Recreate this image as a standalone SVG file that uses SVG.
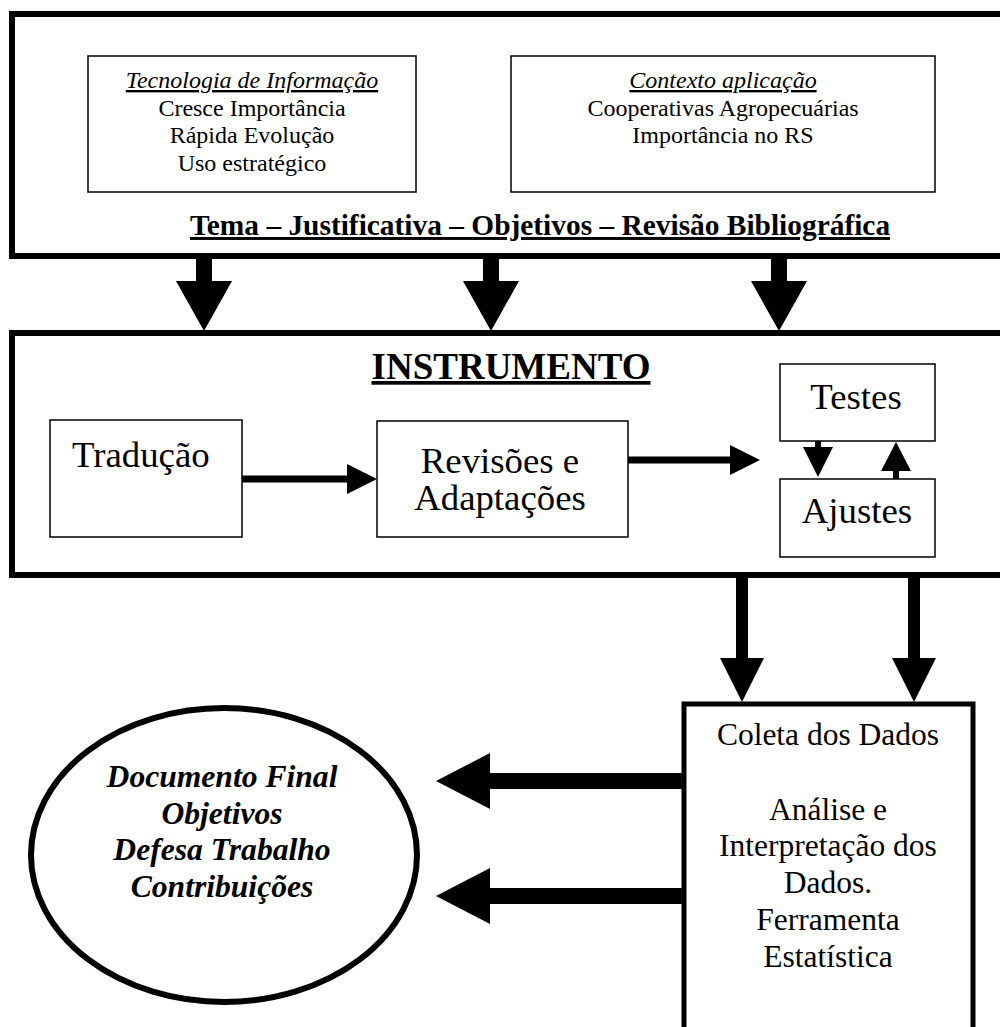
<svg xmlns="http://www.w3.org/2000/svg" width="1000" height="1027" viewBox="0 0 1000 1027">
<style>
text{font-family:"Liberation Serif","Times New Roman",serif;fill:#000;text-anchor:middle}
.thick{fill:#fff;stroke:#000;stroke-width:6}
.thin{fill:#fff;stroke:#000;stroke-width:1.5}
.s24{font-size:24px}
.s36{font-size:36.8px}
.s31{font-size:31.5px}
.it{font-style:italic}
.b{font-weight:bold}
.u{text-decoration:underline}
.arr{fill:#000;stroke:none}
</style>
<rect width="1000" height="1027" fill="#fff"/>
<g id="top-box">
<rect class="thick" x="12" y="14" width="1000" height="242"/>
<text class="b u" x="540" y="235" style="font-size:29.4px">Tema – Justificativa – Objetivos – Revisão Bibliográfica</text>
</g>
<g id="ti-box">
<rect class="thin" x="88" y="56" width="328" height="136"/>
<text class="s24 it u" x="252" y="88">Tecnologia de Informação</text>
<text class="s24" x="252" y="116">Cresce Importância</text>
<text class="s24" x="252" y="143">Rápida Evolução</text>
<text class="s24" x="252" y="171">Uso estratégico</text>
</g>
<g id="contexto-box">
<rect class="thin" x="511" y="56" width="424" height="136"/>
<text class="s24 it u" x="723" y="88">Contexto aplicação</text>
<text class="s24" x="723" y="116">Cooperativas Agropecuárias</text>
<text class="s24" x="723" y="143">Importância no RS</text>
</g>
<g id="instrumento-box">
<rect class="thick" x="12" y="333" width="1000" height="242"/>
<text class="b u" x="511" y="379" style="font-size:37px">INSTRUMENTO</text>
</g>
<g id="traducao">
<rect class="thin" x="50" y="420" width="192" height="117"/>
<text class="s36" x="72" y="467" style="text-anchor:start">Tradução</text>
</g>
<g id="revisoes">
<rect class="thin" x="377" y="421" width="251" height="116"/>
<text class="s36" x="500" y="473">Revisões e</text>
<text class="s36" x="500" y="510">Adaptações</text>
</g>
<g id="testes">
<rect class="thin" x="780" y="364" width="155" height="77"/>
<text class="s36" x="856" y="409">Testes</text>
</g>
<g id="ajustes">
<rect class="thin" x="780" y="479" width="155" height="78"/>
<text class="s36" x="857" y="523">Ajustes</text>
</g>
<g id="coleta">
<rect x="684" y="704" width="289" height="340" fill="#fff" stroke="#000" stroke-width="5"/>
<text class="s31" x="828" y="745">Coleta dos Dados</text>
<text class="s31" x="828" y="820">Análise e</text>
<text class="s31" x="828" y="856">Interpretação dos</text>
<text class="s31" x="828" y="893">Dados.</text>
<text class="s31" x="828" y="930">Ferramenta</text>
<text class="s31" x="828" y="967">Estatística</text>
</g>
<g id="documento-final">
<ellipse cx="224" cy="855" rx="193" ry="147" fill="#fff" stroke="#000" stroke-width="6"/>
<text class="b it" x="222" y="787" style="font-size:31.6px">Documento Final</text>
<text class="b it" x="222" y="823.5" style="font-size:31.6px">Objetivos</text>
<text class="b it" x="222" y="860" style="font-size:31.6px">Defesa Trabalho</text>
<text class="b it" x="222" y="896.5" style="font-size:31.6px">Contribuições</text>
</g>
<g id="connectors">
<polygon class="arr" points="196,259 212,259 212,281 232,281 204,331 176,281 196,281"/>
<polygon class="arr" points="483,259 499,259 499,281 519,281 491,331 463,281 483,281"/>
<polygon class="arr" points="771,259 787,259 787,281 807,281 779,331 751,281 771,281"/>
<polygon class="arr" points="242,475.5 347,475.5 347,464 377,479 347,494 347,482.5 242,482.5"/>
<polygon class="arr" points="628,456.5 730,456.5 730,445 760,460 730,475 730,463.5 628,463.5"/>
<polygon class="arr" points="815,441 821,441 821,447 833,447 818,477 803,447 815,447"/>
<polygon class="arr" points="893,479 899,479 899,471 911,471 896,442 881,471 893,471"/>
<polygon class="arr" points="736,578 748,578 748,658 764,658 742,702 720,658 736,658"/>
<polygon class="arr" points="908,578 920,578 920,658 936,658 914,702 892,658 908,658"/>
<polygon class="arr" points="682,773 490,773 490,753 436,781 490,809 490,789 682,789"/>
<polygon class="arr" points="682,888 490,888 490,868 436,896 490,924 490,904 682,904"/>
</g>
</svg>
